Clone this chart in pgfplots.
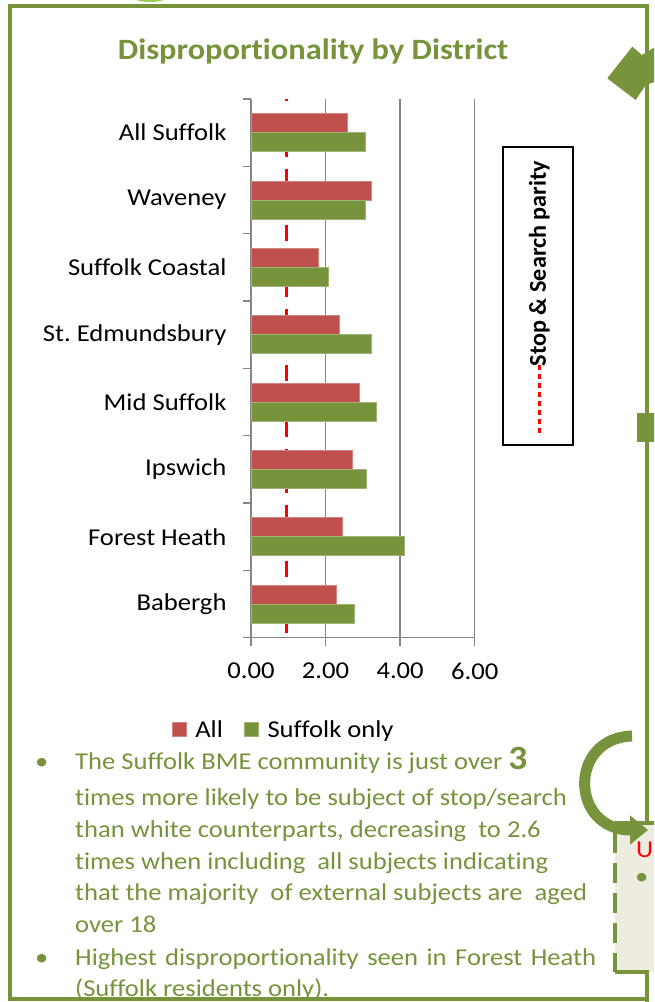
\documentclass[border=0pt]{standalone}
\usepackage{pgfplots}
\pgfplotsset{compat=1.18}
\usetikzlibrary{arrows.meta}
\usepackage{fontspec}
\setmainfont{Carlito}[FakeStretch=1.1, Ligatures=NoCommon]
\newfontfamily\plainfont{Carlito}[Ligatures=NoCommon]
\definecolor{olive}{RGB}{119,147,60}
\definecolor{barred}{RGB}{192,80,77}
\definecolor{gridgray}{RGB}{134,134,134}
\definecolor{beige}{RGB}{238,236,225}
\definecolor{lightgreen}{RGB}{146,208,80}
\newcommand{\fs}{\fontsize{24.2}{28}\selectfont}
\frenchspacing
\begin{document}
\begin{tikzpicture}[x=1pt,y=1pt]
\path[use as bounding box] (0,0) rectangle (654,1002);
\clip (0,0) rectangle (654,1002);
\fill[white] (0,0) rectangle (654,1002);
% top ellipse
\fill[lightgreen] (150,1010) ellipse (23 and 10);
% title
\node[font=\bfseries\fontsize{29.5}{32}\selectfont, text=olive] at (313,951) {Disproportionality by District};

\begin{axis}[
  at={(251pt,364.3pt)}, anchor=south west,
  scale only axis, width=223.7pt, height=538.7pt,
  xmin=0, xmax=6, ymin=-0.5, ymax=7.5,
  axis x line=bottom, axis y line=left,
  axis line style={-, gridgray, line width=1.3pt},
  xtick={0,2,4,6}, xticklabels={0.00,2.00,4.00,6.00},
  xmajorgrids, grid style={gridgray, line width=1.3pt},
  ytick={-0.5,0.5,...,7.5}, yticklabels={},
  extra y ticks={0,...,7},
  extra y tick labels={Babergh,Forest Heath,Ipswich,Mid Suffolk,St. Edmundsbury,Suffolk Coastal,Waveney,All Suffolk},
  extra y tick style={major tick length=0pt, grid=none},
  tick align=outside, major tick length=8pt,
  tick style={gridgray, line width=1.3pt},
  ticklabel style={font=\fs, text=black},
  yticklabel style={xshift=-21pt},
  xticklabel style={yshift=-14pt},
  legend style={at={(axis description cs:-0.3545,-0.1704)}, anchor=west,
    draw=none, fill=none, inner sep=0pt, outer sep=0pt, font=\fs, text=black,
    /tikz/every odd column/.append style={column sep=7pt},
    /tikz/every even column/.append style={column sep=19pt}},
  legend columns=2,
  legend image code/.code={\fill[#1] (0pt,-7pt) rectangle (14pt,7pt);},
]
\addplot[forget plot, red, line width=3.5pt, dash pattern=on 15.7pt off 12.3pt, dash phase=13.7pt]
  coordinates {(0.95,7.5) (0.95,-0.5)};
\addplot[xbar, bar width=19pt, bar shift=9.5pt, fill=barred, draw=barred!70!white, line width=0.6pt]
  coordinates {(2.30,0) (2.46,1) (2.73,2) (2.90,3) (2.36,4) (1.81,5) (3.23,6) (2.57,7)};
\addlegendentry{All}
\addplot[xbar, bar width=19pt, bar shift=-9.5pt, fill=olive, draw=olive!70!white, line width=0.6pt]
  coordinates {(2.78,0) (4.12,1) (3.09,2) (3.36,3) (3.24,4) (2.07,5) (3.07,6) (3.07,7)};
\addlegendentry{Suffolk only}
\end{axis}

% parity box
\draw[black, line width=2pt] (502.7,855.3) rectangle (573,557);
\node[rotate=90, font=\plainfont\bfseries\fs, text=black] at (539.3,738.5) {Stop \& Search parity};
\draw[red, line width=2.5pt, dash pattern=on 5pt off 4pt] (539.3,637) -- (539.3,567);

% bullet text
\begin{scope}[every node/.style={anchor=base west, inner sep=0pt, text=olive, font=\fs}]
\node[anchor=base] at (41.7,232) {\textbullet};
\node at (75,232) {The Suffolk BME community is just over {\fontsize{34}{34}\selectfont\bfseries 3}};
\node at (75,196) {times more likely to be subject of stop/search};
\node at (75,164.3) {than white counterparts, decreasing\ \ to 2.6};
\node at (75,132) {times when including\ \ all subjects indicating};
\node at (75,101) {that the majority\ \ of external subjects are\ \ aged};
\node at (75,69) {over 18};
\node[anchor=base] at (41.7,36.3) {\textbullet};
\node at (75,36.3) {\makebox[521pt][s]{Highest disproportionality seen in Forest Heath}};
\node at (75,5.3) {(Suffolk residents only).};
\end{scope}

% frame
\draw[olive, line width=4pt] (10,996) rectangle (647,3);
% top-right arrow
\fill[olive] (607.3,923.7) -- (632.3,955.3) -- (642,947) -- (660,958) -- (660,922) -- (645.7,917) -- (635.7,902) -- cycle;
% small square
\fill[olive] (637,560) rectangle (660,589);
% dashed box
\fill[beige] (615,30) rectangle (660,179);
\draw[olive, line width=4pt] (615,179) -- (660,179);
\draw[olive, line width=4pt] (615,30) -- (647,30) -- (647,0);
\draw[olive, line width=4pt, dash pattern=on 20pt off 10pt] (615,169) -- (615,30);
\node[anchor=base west, inner sep=0pt, text=red, font=\fs] at (636,144) {U};
\node[anchor=base west, inner sep=0pt, text=olive, font=\fs] at (635,117) {\textbullet};
% curved arrow
\draw[olive, line width=11pt, -{Triangle[width=28pt,length=18pt]}] (632,266) .. controls (568,264) and (570,172) .. (648,172);
\end{tikzpicture}
\end{document}
